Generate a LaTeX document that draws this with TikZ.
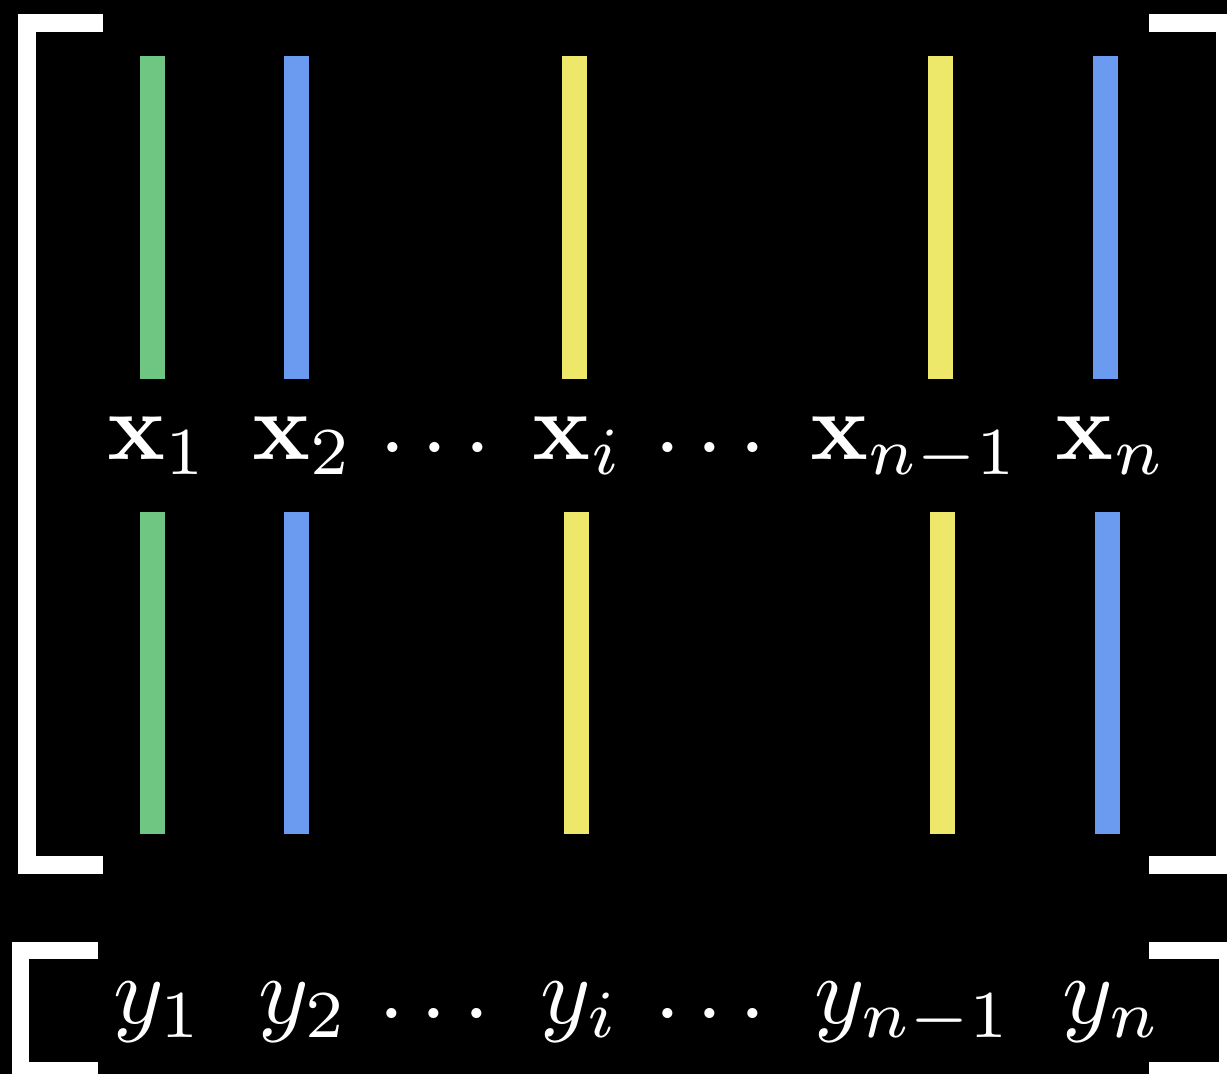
\documentclass[tikz,border=0pt]{standalone}
\usepackage{amsmath}
\definecolor{bargreen}{RGB}{111,198,130}
\definecolor{barblue}{RGB}{106,155,240}
\definecolor{baryellow}{RGB}{238,232,106}
\begin{document}
\begin{tikzpicture}[x=0.5pt,y=-0.5pt,
  bracket/.style={draw=white,line width=9pt,line join=miter,line cap=butt},
  bracketsm/.style={draw=white,line width=8.5pt,line join=miter,line cap=butt},
  lab/.style={text=white,inner sep=0pt,anchor=base,scale=4.8}]
\useasboundingbox (0,0) rectangle (1227,1074);
\fill[black] (0,0) rectangle (1227,1074);
% top matrix brackets
\draw[bracket] (103,23) -- (27,23) -- (27,865) -- (103,865);
\draw[bracket] (1149,23) -- (1225,23) -- (1225,865) -- (1149,865);
% bottom vector brackets
\draw[bracketsm] (98,950) -- (20.5,950) -- (20.5,1070) -- (98,1070);
\draw[bracketsm] (1149,950) -- (1227.5,950) -- (1227.5,1070) -- (1149,1070);
% bars upper
\fill[bargreen] (140,56) rectangle (165,379);
\fill[barblue] (284,56) rectangle (309,379);
\fill[baryellow] (562,56) rectangle (587,379);
\fill[baryellow] (928,56) rectangle (953,379);
\fill[barblue] (1093,56) rectangle (1118,379);
% bars lower
\fill[bargreen] (140,512) rectangle (165,834);
\fill[barblue] (284,512) rectangle (309,834);
\fill[baryellow] (564,512) rectangle (589,834);
\fill[baryellow] (930,512) rectangle (955,834);
\fill[barblue] (1095,512) rectangle (1120,834);
% x labels
\node[lab] (x1) at (158,460) {$\mathbf{x}_1$};
\node[lab] (x2) at (303,460) {$\mathbf{x}_2$};
\node[lab] (xd1) at (443,472) {$\cdots$};
\node[lab] (xi) at (578,460) {$\mathbf{x}_i$};
\node[lab] (xd2) at (718,472) {$\cdots$};
\node[lab] (xnm) at (915,460) {$\mathbf{x}_{n-1}$};
\node[lab] (xn) at (1111,460) {$\mathbf{x}_n$};
% y labels
\node[lab] (y1) at (158.5,1023) {$y_1$};
\node[lab] (y2) at (304,1023) {$y_2$};
\node[lab] (yd1) at (442,1037) {$\cdots$};
\node[lab] (yi) at (580,1023) {$y_i$};
\node[lab] (yd2) at (718,1037) {$\cdots$};
\node[lab] (ynm) at (913.5,1023) {$y_{n-1}$};
\node[lab] (yn) at (1112.5,1023) {$y_n$};
\end{tikzpicture}
\end{document}
